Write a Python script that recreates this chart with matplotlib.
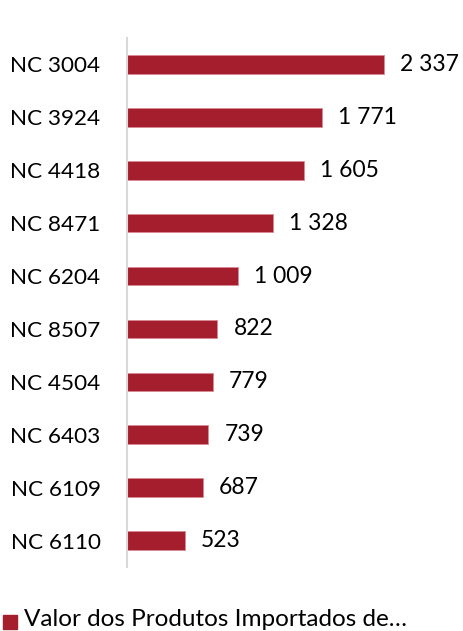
import matplotlib
matplotlib.use("Agg")
import matplotlib.pyplot as plt
from matplotlib.patches import Rectangle

plt.rcParams['font.family'] = ['Lato', 'DejaVu Sans']

# dados
categorias = ["NC 3004", "NC 3924", "NC 4418", "NC 8471", "NC 6204",
              "NC 8507", "NC 4504", "NC 6403", "NC 6109", "NC 6110"]
valores = [2337, 1771, 1605, 1328, 1009, 822, 779, 739, 687, 523]
legenda = "Valor dos Produtos Importados de…"

COR = "#A41E2D"
W, H = 464, 631

fig = plt.figure(figsize=(W / 100, H / 100), dpi=100)
ax = fig.add_axes([127 / W, 64 / H, 330 / W, 529 / H])

pos = list(range(len(categorias)))[::-1]
ax.barh(pos, valores, height=0.35, color=COR, edgecolor="#D98A93", linewidth=0.6)

ax.set_xlim(0, 3000)
ax.set_ylim(-0.5, len(categorias) - 0.5)
ax.set_yticks(pos)
ax.set_yticklabels(categorias, fontsize=16.2, color="#000000")
ax.tick_params(axis="y", length=0, pad=19)
ax.set_xticks([])

for s in ["top", "right", "bottom"]:
    ax.spines[s].set_visible(False)
ax.spines["left"].set_color("#D9D9D9")
ax.spines["left"].set_linewidth(1.5)

for p, v in zip(pos, valores):
    txt = f"{v:,}".replace(",", " ")
    ax.annotate(txt, (v, p), xytext=(11.5, 0), textcoords="offset points",
                va="center", ha="left", fontsize=16.5, color="#000000")

# legenda
fig.patches.append(Rectangle((3 / W, 2 / H), 14 / W, 14 / H,
                             transform=fig.transFigure, color=COR))
fig.text(24 / W, 5 / H, legenda, fontsize=17.5, ha="left", va="baseline")

fig.savefig("out.png", dpi=100)
